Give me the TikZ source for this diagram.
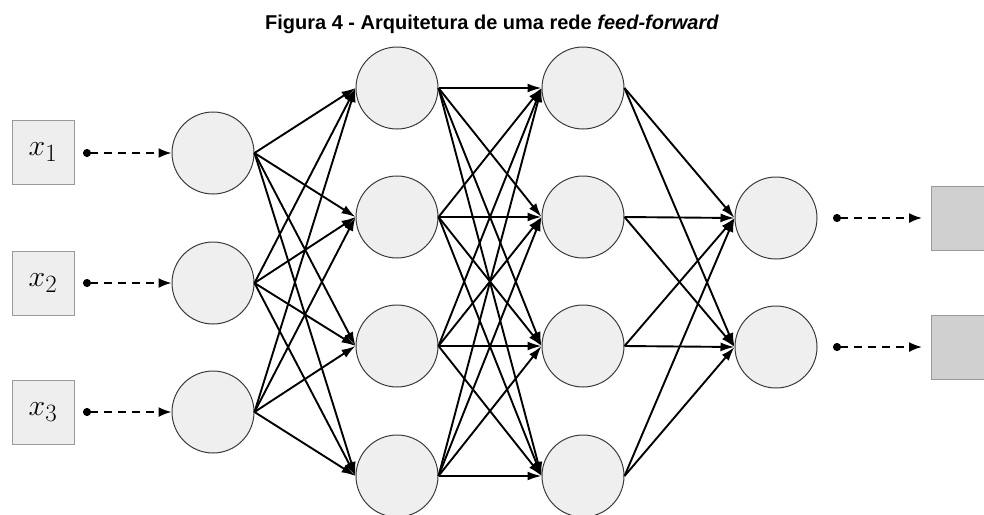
\documentclass[tikz,border=0pt]{standalone}
\usepackage{graphicx}
\usepackage{fontspec}
\setsansfont{Liberation Sans}
\usetikzlibrary{arrows.meta}
\definecolor{neuronfill}{HTML}{EFEFEF}
\definecolor{neuronline}{HTML}{3A3A3A}
\definecolor{inputfill}{HTML}{EEEEEE}
\definecolor{outputfill}{HTML}{D0D0D0}
\definecolor{boxline}{HTML}{9A9A9A}
% input label, enlarged beyond the largest math font size
\newcommand{\inlabel}[1]{\scalebox{1.2}{$x_{#1}$}}
\begin{document}
\begin{tikzpicture}[x=1pt,y=-1pt,
  neuron/.style={circle, draw=neuronline, fill=neuronfill, line width=1pt,
    minimum size=82pt, inner sep=0pt},
  inbox/.style={draw=boxline, fill=inputfill, line width=1pt,
    minimum width=62pt, minimum height=64pt, inner sep=0pt,
    font=\fontsize{24.88}{28}\selectfont},
  outbox/.style={draw=boxline, fill=outputfill, line width=1pt,
    minimum width=62pt, minimum height=64pt, inner sep=0pt},
  link/.style={line width=1.9pt, -{Latex[length=14pt,width=9pt]}},
  feed/.style={line width=1.8pt, dash pattern=on 8pt off 6pt,
    {Circle[length=8pt]}-{Latex[length=13pt,width=10pt]}}
]
\useasboundingbox (0,0) rectangle (984,514);
\clip (0,0) rectangle (984,514);

% title
\node[font=\sffamily\bfseries\fontsize{20}{22}\selectfont, anchor=base]
  (title) at (492,29) {Figura 4 - Arquitetura de uma rede \textit{feed-forward}};

% input boxes
\node[inbox] (x1) at (43,152) {\inlabel{1}};
\node[inbox] (x2) at (43,283) {\inlabel{2}};
\node[inbox] (x3) at (43,412) {\inlabel{3}};

% layers of neurons
\foreach \i/\y in {1/153,2/283,3/412}
  \node[neuron] (a\i) at (213,\y) {};
\foreach \i/\y in {1/88,2/217,3/346,4/476}{
  \node[neuron] (b\i) at (397,\y) {};
  \node[neuron] (c\i) at (583,\y) {};
}
\foreach \i/\y in {1/218,2/347}
  \node[neuron] (d\i) at (776,\y) {};

% output boxes
\node[outbox, anchor=west] (y1) at (931,218) {};
\node[outbox, anchor=west] (y2) at (931,347) {};

% dashed feeds in and out
\foreach \i/\y in {1/153,2/283,3/412}{
  \coordinate (s\i) at (83,\y);
  \draw[feed] (s\i) -- (a\i.west);
}
\foreach \i/\y in {1/218,2/347}{
  \coordinate (t\i) at (833,\y);
  \draw[feed, shorten >=9pt] (t\i) -- (y\i.west);
}

% fully connected links
\foreach \i in {1,2,3}
  \foreach \j in {1,2,3,4}
    \draw[link] (a\i.east) -- (b\j.west);
\foreach \i in {1,2,3,4}
  \foreach \j in {1,2,3,4}
    \draw[link] (b\i.east) -- (c\j.west);
\foreach \i in {1,2,3,4}
  \foreach \j in {1,2}
    \draw[link] (c\i.east) -- (d\j.west);
\end{tikzpicture}
\end{document}
